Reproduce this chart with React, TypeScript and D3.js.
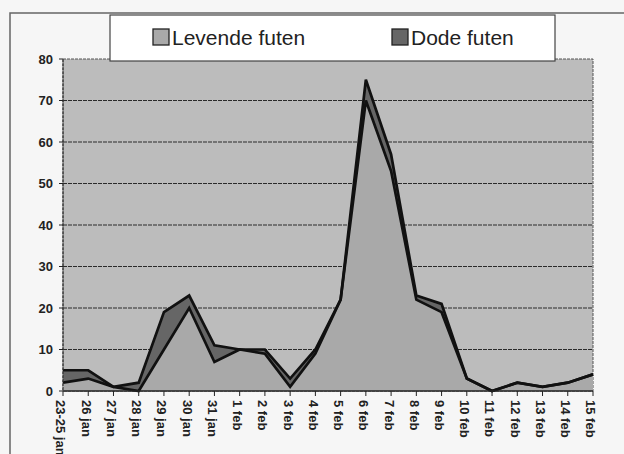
import React from "react";
import * as d3 from "d3";

const categories = [
  "23-25 jan", "26 jan", "27 jan", "28 jan", "29 jan", "30 jan", "31 jan",
  "1 feb", "2 feb", "3 feb", "4 feb", "5 feb", "6 feb", "7 feb", "8 feb",
  "9 feb", "10 feb", "11 feb", "12 feb", "13 feb", "14 feb", "15 feb",
];
const levende = [2, 3, 1, 0, 10, 20, 7, 10, 9, 1, 9, 22, 70, 53, 22, 19, 3, 0, 2, 1, 2, 4];
const dode = [3, 2, 0, 2, 9, 3, 4, 0, 1, 2, 1, 0, 5, 4, 1, 2, 0, 0, 0, 0, 0, 0];
const yTicks = [0, 10, 20, 30, 40, 50, 60, 70, 80];
const legendLabels = ["Levende futen", "Dode futen"];

const W = 624, H = 454;
const left = 63, right = 593, top = 59, bottom = 391;
const FONT = "Arial, 'Liberation Sans', sans-serif";
const cPlot = "#bcbcbc";
const cLev = "#a9a9a9";
const cDode = "#666666";

export default function App() {
  const x = d3.scalePoint<string>().domain(categories).range([left, right]);
  const y = d3.scaleLinear().domain([0, 80]).range([bottom, top]);
  const data = categories.map((c, i) => ({ c, l: levende[i], d: dode[i] }));

  const areaLev = d3.area<any>().x((p) => x(p.c)!).y0(y(0)).y1((p) => y(p.l));
  const areaDode = d3.area<any>().x((p) => x(p.c)!).y0((p) => y(p.l)).y1((p) => y(p.l + p.d));
  const lineLev = d3.line<any>().x((p) => x(p.c)!).y((p) => y(p.l));
  const lineTot = d3.line<any>().x((p) => x(p.c)!).y((p) => y(p.l + p.d));

  return (
    <svg width={W} height={H} style={{ position: "absolute", left: 0, top: 0, background: "#f6f6f6" }}>
      <path d={`M10,${H} V13 H${W}`} fill="none" stroke="#666" strokeWidth={1.5} />
      <rect x={left} y={top} width={right - left} height={bottom - top} fill={cPlot} stroke="#555" strokeWidth={1} strokeDasharray="3,1" />
      {yTicks.filter((t) => t > 0 && t < 80).map((t) => (
        <line key={t} x1={left} x2={right} y1={y(t)} y2={y(t)} stroke="#2a2a2a" strokeWidth={1.1} strokeDasharray="4,1" />
      ))}
      <path d={areaDode(data)!} fill={cDode} />
      <path d={areaLev(data)!} fill={cLev} />
      <path d={lineTot(data)!} fill="none" stroke="#111" strokeWidth={2.7} strokeLinejoin="miter" />
      <path d={lineLev(data)!} fill="none" stroke="#111" strokeWidth={2.7} strokeLinejoin="miter" />
      <line x1={left} x2={left} y1={top} y2={bottom} stroke="#333" strokeWidth={1.2} strokeDasharray="3,1" />
      <line x1={left} x2={right} y1={bottom} y2={bottom} stroke="#222" strokeWidth={1.5} />
      {yTicks.map((t) => (
        <g key={t}>
          <line x1={left - 4} x2={left} y1={y(t)} y2={y(t)} stroke="#222" />
          <text x={53} y={y(t)} dy="0.35em" textAnchor="end" fontFamily={FONT} fontWeight="bold" fontSize={13} fill="#222">{t}</text>
        </g>
      ))}
      {categories.map((c) => (
        <g key={c}>
          <line x1={x(c)!} x2={x(c)!} y1={bottom} y2={bottom + 5} stroke="#222" />
          <text transform={`translate(${x(c)! - 2},${bottom + 9}) rotate(90)`} dy="0.35em" textAnchor="start" fontFamily={FONT} fontWeight="bold" fontSize={13} fill="#222">{c}</text>
        </g>
      ))}
      <rect x={110} y={15} width={445} height={46} fill="#fff" stroke="#444" strokeWidth={1.2} />
      <rect x={153} y={29} width={16} height={16} fill={cLev} stroke="#222" strokeWidth={1.3} />
      <text x={172} y={45} fontFamily={FONT} fontSize={21} fill="#222">{legendLabels[0]}</text>
      <rect x={392} y={29} width={16} height={16} fill={cDode} stroke="#222" strokeWidth={1.3} />
      <text x={411} y={45} fontFamily={FONT} fontSize={21} fill="#222">{legendLabels[1]}</text>
    </svg>
  );
}
